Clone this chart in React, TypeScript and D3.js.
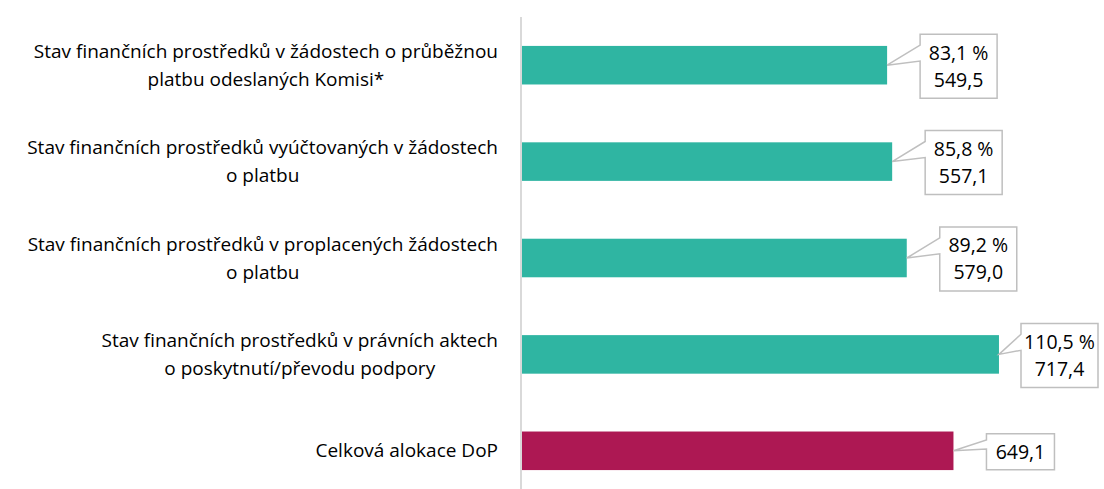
import React, { useRef, useEffect } from 'react'
import * as d3 from 'd3'

// category labels (already broken into lines as in the original)
const categories: string[][] = [
  ['Stav finančních prostředků v žádostech o průběžnou', 'platbu odeslaných Komisi*'],
  ['Stav finančních prostředků vyúčtovaných v žádostech', 'o platbu'],
  ['Stav finančních prostředků v proplacených žádostech', 'o platbu'],
  ['Stav finančních prostředků v právních aktech', 'o poskytnutí/převodu podpory'],
  ['Celková alokace DoP'],
]
const values = [549.5, 557.1, 579.0, 717.4, 649.1]
const shares: (number | null)[] = [83.1, 85.8, 89.2, 110.5, null]
const barColors = ['#2fb5a2', '#2fb5a2', '#2fb5a2', '#2fb5a2', '#ad1853']

const W = 1104
const H = 489
const FONT = '"Open Sans", "Noto Sans", sans-serif'

const cz = d3.formatLocale({ decimal: ',', thousands: ' ', grouping: [3], currency: ['', ' Kč'] })
const fmt = cz.format('.1f')

const App = () => {
  const svgRef = useRef<SVGSVGElement>(null)

  useEffect(() => {
    document.body.style.margin = '0'
    const svg = d3.select(svgRef.current)
    svg.selectAll('*').remove()

    const x = d3.scaleLinear().domain([0, 800]).range([521, 1054])
    const y = d3.scaleBand<number>()
      .domain(d3.range(values.length))
      .range([17, 499])
      .paddingInner(0.6)
      .paddingOuter(0.3)

    // axis line
    svg.append('line')
      .attr('x1', x(0)).attr('x2', x(0))
      .attr('y1', 17).attr('y2', H)
      .attr('stroke', '#d9d9d9').attr('stroke-width', 2)

    // bars
    svg.append('g')
      .selectAll('rect')
      .data(values)
      .join('rect')
      .attr('x', x(0) + 1)
      .attr('y', (d, i) => y(i)!)
      .attr('width', d => x(d) - x(0) - 1)
      .attr('height', y.bandwidth())
      .attr('fill', (d, i) => barColors[i])

    // category labels, lines centered, block ending at the axis
    const labels = svg.append('g')
      .attr('font-family', FONT)
      .attr('font-size', 19)
      .attr('fill', '#000')
    categories.forEach((lines, i) => {
      const cy = y(i)! + y.bandwidth() / 2
      const g = labels.append('text').attr('text-anchor', 'middle')
      lines.forEach((l, j) => {
        g.append('tspan')
          .attr('y', cy + (j - (lines.length - 1) / 2) * 28)
          .attr('dy', '0.35em')
          .text(l)
      })
      const maxW = d3.max(g.selectAll<SVGTSpanElement, unknown>('tspan').nodes(), n => n.getComputedTextLength()) || 0
      g.selectAll('tspan').attr('x', 498 - maxW / 2)
    })

    // callouts
    const callouts = svg.append('g')
      .attr('font-family', FONT)
      .attr('font-size', 19.5)
    values.forEach((v, i) => {
      const tipX = x(v)
      const tipY = y(i)! + y.bandwidth() / 2
      const twoLines = shares[i] !== null
      const bw = twoLines ? 77 : 68
      const bh = twoLines ? 64 : 36
      const left = Math.min(tipX + 33, 1098 - bw)
      const top = tipY + 1 - bh / 2
      const w1 = top + bh * 0.17
      const w2 = top + bh * 0.42
      const path = d3.path()
      path.moveTo(left, top)
      path.lineTo(left + bw, top)
      path.lineTo(left + bw, top + bh)
      path.lineTo(left, top + bh)
      path.lineTo(left, w2)
      path.lineTo(tipX, tipY)
      path.lineTo(left, w1)
      path.closePath()
      callouts.append('path')
        .attr('d', path.toString())
        .attr('fill', '#fff')
        .attr('stroke', '#bfbfbf')
        .attr('stroke-width', 1.5)
      const t = callouts.append('text').attr('text-anchor', 'middle').attr('fill', '#000')
      const lines = twoLines ? [`${fmt(shares[i]!)} %`, fmt(v)] : [fmt(v)]
      lines.forEach((l, j) => {
        t.append('tspan')
          .attr('x', left + bw / 2)
          .attr('y', top + bh / 2 + (j - (lines.length - 1) / 2) * 27)
          .attr('dy', '0.35em')
          .text(l)
      })
    })
  }, [])

  return <svg ref={svgRef} width={W} height={H} style={{ display: 'block', background: '#fff' }} />
}

export default App
